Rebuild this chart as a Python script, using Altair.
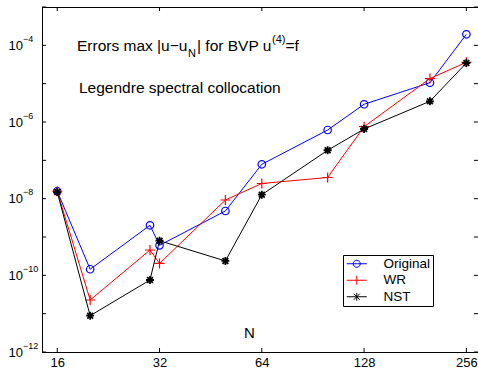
import altair as alt
import pandas as pd

# ---- data ----
N = [16, 20, 30, 32, 50, 64, 100, 128, 200, 256]
original = [1.56e-8, 1.44e-10, 2.02e-9, 6.06e-10, 4.77e-9, 7.88e-8, 6.18e-7, 2.9e-6, 1.06e-5, 1.94e-4]
wr = [1.56e-8, 2.27e-11, 4.58e-10, 2.04e-10, 9.23e-9, 2.49e-8, 3.57e-8, 7.54e-7, 1.36e-5, 3.61e-5]
nst = [1.49e-8, 8.85e-12, 7.55e-11, 8.0e-10, 2.37e-10, 1.27e-8, 1.83e-7, 6.56e-7, 3.47e-6, 3.46e-5]
series_names = ["Original", "WR", "NST"]
series_colors = ["#0000ff", "#ff0000", "#000000"]
x_ticks = [16, 32, 64, 128, 256]
y_decades = [-12, -11, -10, -9, -8, -7, -6, -5, -4, -3]
y_label_exps = [-12, -10, -8, -6, -4]
y_label_exp_text = ["\u221212", "\u221210", "\u22128", "\u22126", "\u22124"]

FONT = "Liberation Sans"
W, H = 436, 345

rows = []
for name, vals in zip(series_names, [original, wr, nst]):
    for n, v in zip(N, vals):
        rows.append({"series": name, "N": n, "err": v})
df = pd.DataFrame(rows)

xscale = alt.Scale(type="log", base=2, domain=[14.43, 277], nice=False)
yscale = alt.Scale(type="log", domain=[1e-12, 1e-3], nice=False)

xaxis = alt.Axis(values=x_ticks, format="d", ticks=False, labelFontSize=13, labelPadding=4,
                 labelFont=FONT, labelColor="black", domainColor="black", grid=False,
                 labelFlush=False)
yaxis = alt.Axis(values=[10.0 ** e for e in y_label_exps], labelExpr="'10'", ticks=False,
                 labelAlign="left", labelBaseline="middle", labelPadding=34, labelFontSize=13,
                 labelFont=FONT, labelColor="black", domainColor="black", grid=False)

X = lambda f: alt.X(f, scale=xscale, title=None)
Y = lambda f: alt.Y(f, scale=yscale, title=None)

PLUS = "M-1,0H1M0,-1V1"
STAR = "M-1,0H1M0,-1V1M-0.72,-0.72L0.72,0.72M-0.72,0.72L0.72,-0.72"
marker_defs = [
    dict(shape="circle", size=56, strokeWidth=1.2),
    dict(shape=PLUS, size=100, strokeWidth=1.2),
    dict(shape=STAR, size=64, strokeWidth=1.8),
]

series_layers = []
for i, (name, col, md) in enumerate(zip(series_names, series_colors, marker_defs)):
    base = alt.Chart(df).transform_filter(alt.datum.series == name)
    if i == 0:
        enc = dict(x=alt.X("N:Q", scale=xscale, axis=xaxis, title=None),
                   y=alt.Y("err:Q", scale=yscale, axis=yaxis, title=None))
    else:
        enc = dict(x=X("N:Q"), y=Y("err:Q"))
    series_layers.append(base.mark_line(strokeWidth=1, color=col).encode(**enc))
    series_layers.append(base.mark_point(filled=False, opacity=1, color=col, **md).encode(**enc))

# legend (symbols combine line sample + marker)
LEG_PATHS = [
    "M-2,0H2M0.7,0A0.7,0.7,0,1,1,-0.7,0A0.7,0.7,0,1,1,0.7,0",
    "M-2,0H2M0,-0.9V0.9",
    "M-2,0H2M0,-0.8V0.8M-0.6,-0.6L0.6,0.6M-0.6,0.6L0.6,-0.6",
]
legend = alt.Legend(title=None, orient="none", legendX=301, legendY=248,
                    strokeColor="black", fillColor="white", padding=2,
                    labelFontSize=13.5, labelFont=FONT, labelColor="black",
                    symbolSize=100, symbolStrokeWidth=1, symbolOffset=5, labelOffset=20,
                    rowPadding=1.5, symbolFillColor="transparent")
legend_layer = alt.Chart(df).mark_point(opacity=0, filled=False).encode(
    x=X("N:Q"), y=Y("err:Q"),
    shape=alt.Shape("series:N", scale=alt.Scale(domain=series_names, range=LEG_PATHS), legend=legend),
    stroke=alt.Stroke("series:N", scale=alt.Scale(domain=series_names, range=series_colors), legend=legend),
)

# inward ticks on all four sides
xt = pd.DataFrame({"N": x_ticks})
yt = pd.DataFrame({"v": [10.0 ** e for e in y_decades]})
tick_layers = [
    alt.Chart(xt).mark_rule(color="black", strokeWidth=1).encode(x=X("N:Q"), y=alt.value(H), y2=alt.value(H - 4)),
    alt.Chart(xt).mark_rule(color="black", strokeWidth=1).encode(x=X("N:Q"), y=alt.value(0), y2=alt.value(4)),
    alt.Chart(yt).mark_rule(color="black", strokeWidth=1).encode(y=Y("v:Q"), x=alt.value(0), x2=alt.value(4)),
    alt.Chart(yt).mark_rule(color="black", strokeWidth=1).encode(y=Y("v:Q"), x=alt.value(W), x2=alt.value(W - 4)),
]

# exponent part of y tick labels
ye = pd.DataFrame({"v": [10.0 ** e for e in y_label_exps], "t": y_label_exp_text})
exp_layer = alt.Chart(ye).mark_text(align="left", baseline="alphabetic", fontSize=9, font=FONT,
                                    color="black", dy=-3.5).encode(
    y=Y("v:Q"), x=alt.value(-19), text="t:N")


def label(txt, x, y, size):
    return alt.Chart(pd.DataFrame({"t": [txt]})).mark_text(
        align="left", baseline="alphabetic", fontSize=size, font=FONT, color="black"
    ).encode(text="t:N", x=alt.value(x), y=alt.value(y))


BIG = 15.5
texts = [
    label("Errors max |u\u2212u", 35, 43.5, BIG),
    label("N", 146, 49.5, 11),
    label("| for BVP u", 155, 43.5, BIG),
    label("(4)", 230, 36, 11),
    label("=f", 243.5, 43.5, BIG),
    label("Legendre spectral collocation", 37, 86, BIG),
    label("N", 202, 331, 15),
]

chart = alt.layer(*series_layers, legend_layer, *tick_layers, exp_layer, *texts).properties(
    width=W, height=H,
    autosize=alt.AutoSizeParams(type="none"),
    padding={"left": 42, "top": 7, "right": 0, "bottom": 20},
    background="white",
).configure_view(stroke="black", strokeWidth=1)

chart.save("out.html", embed_options={"renderer": "svg", "actions": False})
